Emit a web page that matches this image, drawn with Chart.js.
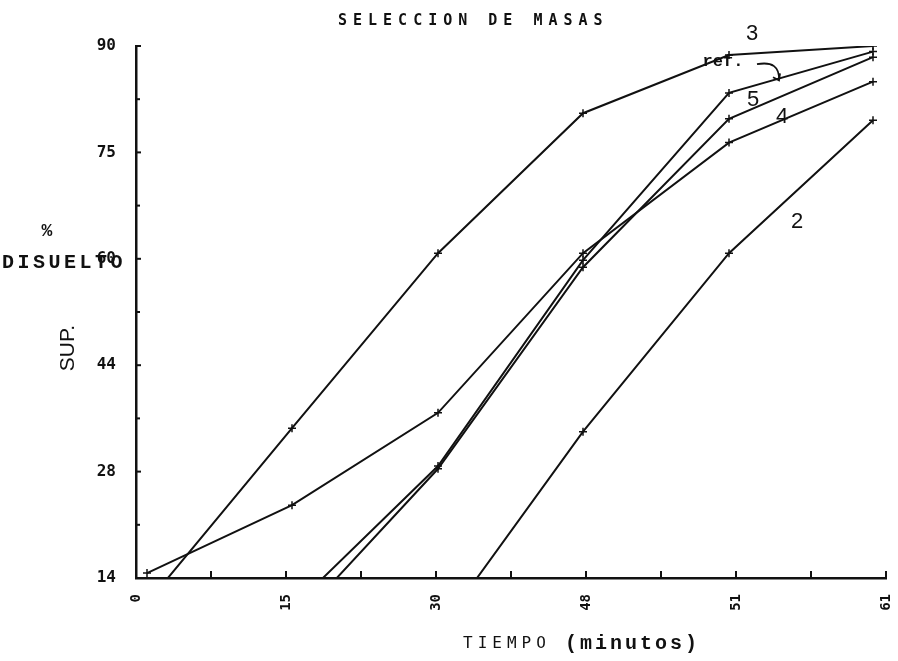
<!DOCTYPE html>
<html>
<head>
<meta charset="utf-8">
<title>Seleccion de masas</title>
<script src="https://cdn.jsdelivr.net/npm/chart.js@4.4.1/dist/chart.umd.min.js"></script>
<style>
  html, body { margin: 0; padding: 0; background: #fff; }
  #wrap { width: 898px; height: 661px; }
</style>
</head>
<body>
<div id="wrap"><canvas id="masasChart" width="898" height="661"></canvas></div>
<script>
// tiempos de muestreo (en unidades del eje x)
var tiempos = [1.1, 15.6, 30.2, 44.7, 59.3, 73.7];

// % disuelto por muestra
var serie3   = [10.4, 35.4, 60.4, 80.4, 88.7, 90.0];
var serieRef = [null, 9.7, 30.0, 59.4, 83.3, 89.2];
var serie5   = [null, 7.1, 29.6, 58.4, 79.6, 88.4];
var serie4   = [14.7, 24.4, 37.6, 60.4, 76.2, 84.9];
var serie2   = [null, null, 6.3, 34.9, 60.4, 79.4];

// etiquetas de los ejes tal como salen en el trazador
var xTickLabels = ['0', '15', '30', '48', '51', '61'];
var yTickLabels = ['14', '28', '44', '60', '75', '90'];

var INK = '#111';
var PLOT_FONT = '"DejaVu Sans Mono", monospace';
var TYPE_FONT = '"Liberation Mono", "Courier New", monospace';
var SANS_FONT = '"Liberation Sans", Arial, sans-serif';

function toPoints(values) {
    return tiempos.map(function(t, i) { return { x: t, y: values[i] }; });
}

function serie(label, values) {
    return {
        label: label,
        data: toPoints(values),
        borderColor: INK,
        backgroundColor: INK,
        borderWidth: 2,
        pointStyle: 'cross',
        pointRadius: 4,
        pointBorderWidth: 1.5,
        tension: 0,
        fill: false,
        spanGaps: false
    };
}

// rotulos de las curvas, en unidades de datos
var curveTags = [
    { text: '3', t: 61.6, v: 91.7, font: '22px ' + SANS_FONT },
    { text: 'ref.', t: 58.7, v: 87.8, font: 'bold 17px ' + TYPE_FONT },
    { text: '5', t: 61.7, v: 82.3, font: '22px ' + SANS_FONT },
    { text: '4', t: 64.6, v: 79.9, font: '22px ' + SANS_FONT },
    { text: '2', t: 66.1, v: 64.9, font: '22px ' + SANS_FONT }
];

function drawText(ctx, str, x, y, font, align, spacing, rot) {
    ctx.save();
    ctx.translate(x, y);
    if (rot) ctx.rotate(rot);
    ctx.font = font;
    ctx.textAlign = align || 'left';
    ctx.textBaseline = 'middle';
    ctx.letterSpacing = spacing || '0px';
    ctx.fillText(str, 0, 0);
    ctx.restore();
}

var plotterMarks = {
    id: 'plotterMarks',
    afterDraw: function(chart) {
        var ctx = chart.ctx, area = chart.chartArea;
        var xs = chart.scales.x, ys = chart.scales.y;
        ctx.save();
        ctx.strokeStyle = INK;
        ctx.fillStyle = INK;
        ctx.lineWidth = 2;

        // marcas hacia dentro
        ys.ticks.forEach(function(tk, i) {
            var py = ys.getPixelForValue(tk.value);
            ctx.beginPath();
            ctx.moveTo(area.left - 1, py);
            ctx.lineTo(area.left + (i % 2 ? 4 : 5), py);
            ctx.stroke();
        });
        xs.ticks.forEach(function(tk) {
            var px = xs.getPixelForValue(tk.value);
            ctx.beginPath();
            ctx.moveTo(px, area.bottom);
            ctx.lineTo(px, area.bottom - 7);
            ctx.stroke();
        });

        // titulo y ejes
        drawText(ctx, 'SELECCION DE MASAS', 338, 21, 'bold 15px ' + PLOT_FONT, 'left', '6px');
        drawText(ctx, 'TIEMPO', 463, 644, '16px ' + PLOT_FONT, 'left', '5px');
        drawText(ctx, '(minutos)', 565, 644, 'bold 20px ' + TYPE_FONT, 'left', '3px');
        drawText(ctx, '%', 47, 231, 'bold 18px ' + TYPE_FONT, 'center');
        drawText(ctx, 'DISUELTO', 2, 263, 'bold 20px ' + TYPE_FONT, 'left', '3.5px');
        drawText(ctx, 'SUP.', 68, 348, '21px ' + SANS_FONT, 'center', '0px', -Math.PI / 2);

        // rotulos de curvas
        curveTags.forEach(function(tag) {
            drawText(ctx, tag.text, xs.getPixelForValue(tag.t), ys.getPixelForValue(tag.v), tag.font, 'center');
        });

        // flecha de "ref."
        var ax = xs.getPixelForValue(62.1), ay = ys.getPixelForValue(87.4);
        var cx = xs.getPixelForValue(64.4), cy = ys.getPixelForValue(88.0);
        var bx = xs.getPixelForValue(64.3), by = ys.getPixelForValue(85.1);
        ctx.lineWidth = 1.8;
        ctx.beginPath();
        ctx.moveTo(ax, ay);
        ctx.quadraticCurveTo(cx, cy, bx, by);
        ctx.stroke();
        ctx.beginPath();
        ctx.moveTo(bx - 6, by - 3);
        ctx.lineTo(bx, by);
        ctx.lineTo(bx + 1, by - 7);
        ctx.stroke();

        ctx.restore();
    }
};

document.addEventListener('DOMContentLoaded', function() {
    var ctx = document.getElementById('masasChart').getContext('2d');

    new Chart(ctx, {
        type: 'line',
        data: {
            datasets: [
                serie('3', serie3),
                serie('ref.', serieRef),
                serie('5', serie5),
                serie('4', serie4),
                serie('2', serie2)
            ]
        },
        options: {
            responsive: false,
            animation: false,
            layout: { padding: { top: 46, right: 12, left: 0, bottom: 0 } },
            plugins: {
                legend: { display: false },
                tooltip: { enabled: false },
                title: { display: false }
            },
            scales: {
                x: {
                    type: 'linear',
                    min: 0,
                    max: 75,
                    grid: { display: false },
                    border: { display: true, color: INK, width: 2.5 },
                    afterFit: function(s) {
                        s.height = 83;
                        s.paddingLeft = 0;
                        s.paddingRight = 0;
                    },
                    afterBuildTicks: function(s) {
                        var t = [];
                        for (var i = 0; i <= 10; i++) t.push({ value: i * 7.5 });
                        s.ticks = t;
                    },
                    ticks: {
                        autoSkip: false,
                        minRotation: 90,
                        maxRotation: 90,
                        padding: 8,
                        color: INK,
                        font: { family: PLOT_FONT, size: 14, weight: 'bold' },
                        callback: function(value, index) {
                            return index % 2 === 0 ? xTickLabels[index / 2] : '';
                        }
                    }
                },
                y: {
                    type: 'linear',
                    min: 14,
                    max: 90,
                    grid: { display: false },
                    border: { display: true, color: INK, width: 2.5 },
                    afterFit: function(s) {
                        s.width = 136;
                        s.paddingTop = 0;
                        s.paddingBottom = 0;
                    },
                    afterBuildTicks: function(s) {
                        var t = [];
                        for (var i = 0; i <= 10; i++) t.push({ value: 14 + i * 7.6 });
                        s.ticks = t;
                    },
                    ticks: {
                        autoSkip: false,
                        padding: 12,
                        color: INK,
                        font: { family: PLOT_FONT, size: 16, weight: 'bold' },
                        callback: function(value, index) {
                            return index % 2 === 0 ? yTickLabels[index / 2] : '';
                        }
                    }
                }
            }
        },
        plugins: [plotterMarks]
    });
});
</script>
</body>
</html>
